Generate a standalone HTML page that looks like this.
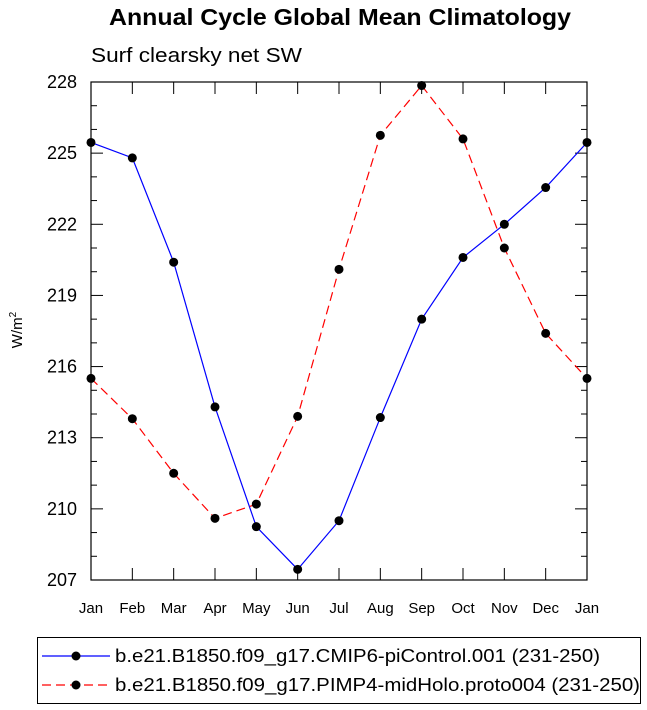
<!DOCTYPE html>
<html><head><meta charset="utf-8"><style>
body{margin:0;background:#fff;}
svg{display:block;font-family:"Liberation Sans",Helvetica,sans-serif;}
</style></head><body>
<svg id="chart" width="647" height="710" viewBox="0 0 647 710">
<text x="340" y="25" text-anchor="middle" font-size="23" font-weight="bold" textLength="462" lengthAdjust="spacingAndGlyphs">Annual Cycle Global Mean Climatology</text>
<text x="91" y="62" font-size="20" textLength="211" lengthAdjust="spacingAndGlyphs">Surf clearsky net SW</text>
<text transform="translate(22,330) rotate(-90)" text-anchor="middle" font-size="15">W/m<tspan dy="-6" font-size="10">2</tspan></text>
<g id="axes"></g>
<g id="series"></g>
<g>
<rect x="37.5" y="637.5" width="603" height="66" fill="none" stroke="#000" stroke-width="1"/>
<g>
<line x1="42" y1="656" x2="110" y2="656" stroke="#0000ff" stroke-width="1.2"/>
<circle cx="76" cy="656" r="4.5" fill="#000"/>
<text x="115" y="662" font-size="18" textLength="485" lengthAdjust="spacingAndGlyphs">b.e21.B1850.f09_g17.CMIP6-piControl.001 (231-250)</text>
</g>
<g>
<line x1="42" y1="685" x2="110" y2="685" stroke="#ff0000" stroke-width="1.2" stroke-dasharray="9,5"/>
<circle cx="76" cy="685" r="4.5" fill="#000"/>
<text x="115" y="691" font-size="18" textLength="525" lengthAdjust="spacingAndGlyphs">b.e21.B1850.f09_g17.PIMP4-midHolo.proto004 (231-250)</text>
</g>
</g>
</svg>
<script>
const months=["Jan","Feb","Mar","Apr","May","Jun","Jul","Aug","Sep","Oct","Nov","Dec","Jan"];
const yTicks=[207,210,213,216,219,222,225,228];
const piControl=[225.45,224.8,220.4,214.3,209.25,207.45,209.5,213.85,218.0,220.6,222.0,223.55,225.45];
const midHolo=[215.5,213.8,211.5,209.6,210.2,213.9,220.1,225.75,227.85,225.6,221.0,217.4,215.5];
const X0=91,X1=587,Y0=82,Y1=580,YMIN=207,YMAX=228;
const NS="http://www.w3.org/2000/svg";
function xs(i){return X0+(X1-X0)*i/(months.length-1);}
function ys(v){return Y1-(v-YMIN)/(YMAX-YMIN)*(Y1-Y0);}
function mk(tag,at,parent){const e=document.createElementNS(NS,tag);for(const k in at)e.setAttribute(k,at[k]);parent.appendChild(e);return e;}
const ax=document.getElementById('axes');
const fr=mk('rect',{x:X0,y:Y0,width:X1-X0,height:Y1-Y0,fill:'none',stroke:'#000','stroke-width':1.2},ax);


for(let v=YMIN;v<=YMAX;v++){
  const major=(v-YMIN)%3===0;const L=major?12:6;const y=ys(v);
  mk('line',{x1:X0,y1:y,x2:X0+L,y2:y,stroke:'#000','stroke-width':1},ax);
  mk('line',{x1:X1,y1:y,x2:X1-L,y2:y,stroke:'#000','stroke-width':1},ax);
}
yTicks.forEach(v=>{
  const t=mk('text',{x:X0-14,y:ys(v)+6,'text-anchor':'end','font-size':18},ax);
  t.textContent=v;
  
  
});
months.forEach((m,i)=>{
  const x=xs(i);
  mk('line',{x1:x,y1:Y1,x2:x,y2:Y1-12,stroke:'#000','stroke-width':1},ax);
  mk('line',{x1:x,y1:Y0,x2:x,y2:Y0+12,stroke:'#000','stroke-width':1},ax);
  const t=mk('text',{x:x,y:Y1+33,'text-anchor':'middle','font-size':15},ax);
  t.textContent=m;
  
  
});
const sg=document.getElementById('series');
function drawSeries(vals,color,dash,name){
  const g=mk('g',{},sg);
  
  
  const pts=vals.map((v,i)=>xs(i)+','+ys(v)).join(' ');
  const at={points:pts,fill:'none',stroke:color,'stroke-width':1.2};
  if(dash)at['stroke-dasharray']=dash;
  mk('polyline',at,g);
  vals.forEach((v,i)=>{
    const c=mk('circle',{cx:xs(i),cy:ys(v),r:4.5,fill:'#000'},g);
    
    
  });
}
drawSeries(piControl,'#0000ff',null,'series-picontrol');
drawSeries(midHolo,'#ff0000','9,5','series-midholo');
</script>
</body></html>
